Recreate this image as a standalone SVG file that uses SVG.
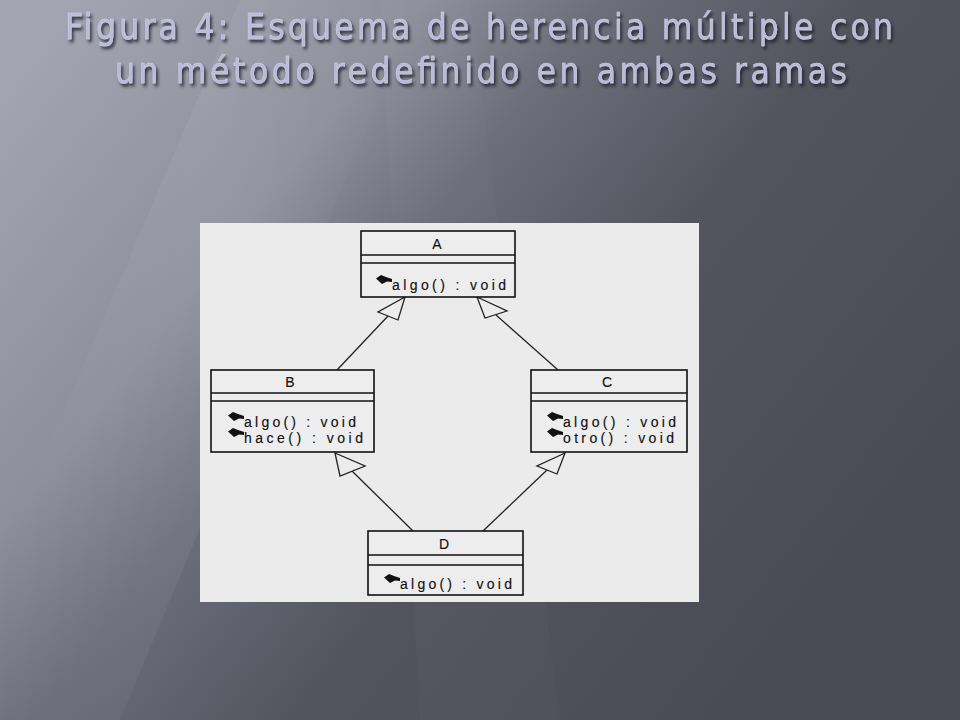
<svg xmlns="http://www.w3.org/2000/svg" width="960" height="720" viewBox="0 0 960 720">
<defs>
<linearGradient id="bg" x1="0" y1="0.1" x2="1" y2="0.7">
<stop offset="0" stop-color="#a3a5b3"/>
<stop offset="0.28" stop-color="#8d8f9c"/>
<stop offset="0.42" stop-color="#6c6e7a"/>
<stop offset="0.62" stop-color="#53545e"/>
<stop offset="1" stop-color="#494a53"/>
</linearGradient>
<linearGradient id="streak" x1="0" y1="0" x2="1" y2="0">
<stop offset="0" stop-color="#ffffff" stop-opacity="0"/>
<stop offset="0.5" stop-color="#ffffff" stop-opacity="0.06"/>
<stop offset="1" stop-color="#ffffff" stop-opacity="0"/>
</linearGradient>
<filter id="shadow" x="-5%" y="-30%" width="110%" height="170%">
<feDropShadow dx="2" dy="3" stdDeviation="1.5" flood-color="#1e1e26" flood-opacity="0.85"/>
</filter>
<path id="op" d="M0,3.5 L5,0 L10,2 L16,4 L16,7 L11,6.5 L6,9 Z" fill="#111"/>
</defs>
<style>
.title{font-family:"DejaVu Sans Condensed","DejaVu Sans","Open Sans",sans-serif;font-stretch:condensed;font-size:35px;fill:#babbd8;stroke:#d6d7ee;stroke-width:0.4;}
.box{fill:#ededed;stroke:#111;stroke-width:1.6;}
.div{stroke:#111;stroke-width:1.6;}
.name{font-family:"Liberation Sans",Arial,sans-serif;font-size:14px;fill:#111;text-anchor:middle;stroke:#111;stroke-width:0.15;}
.meth{font-family:"Liberation Sans",Arial,sans-serif;font-size:14px;fill:#111;stroke:#111;stroke-width:0.15;}
.conn line{stroke:#222;stroke-width:1.3;}
.conn polygon{fill:#ececec;stroke:#222;stroke-width:1.3;stroke-linejoin:miter;}
</style>
<rect x="0" y="0" width="960" height="720" fill="url(#bg)"/>
<polygon points="240,0 420,0 120,720 0,720 0,560" fill="url(#streak)"/>
<polygon points="380,0 470,0 560,720 420,720" fill="#ffffff" opacity="0.02"/>
<g id="title" filter="url(#shadow)">
<text class="title" x="65" y="39" textLength="828" lengthAdjust="spacing">Figura 4: Esquema de herencia múltiple con</text>
<text class="title" x="115" y="83" textLength="732" lengthAdjust="spacing">un método redefinido en ambas ramas</text>
</g>
<rect x="200" y="223" width="499" height="379" fill="#ebebeb"/>
<g id="connectors" class="conn">
<line x1="337" y1="370" x2="388" y2="316"/>
<polygon points="405,297 378,312 398,320"/>
<line x1="558" y1="370" x2="496" y2="315"/>
<polygon points="477,297 507,311 485,318"/>
<line x1="413" y1="531" x2="352" y2="471"/>
<polygon points="335,453 365,466 340,476"/>
<line x1="483" y1="531" x2="547" y2="470"/>
<polygon points="565,453 537,466 557,474"/>
</g>
<g id="A">
<rect class="box" x="361" y="231" width="154" height="66"/>
<line class="div" x1="361" y1="255" x2="515" y2="255"/>
<line class="div" x1="361" y1="263" x2="515" y2="263"/>
<text class="name" x="437" y="249">A</text>
<use href="#op" x="376" y="275"/>
<text class="meth" x="392" y="290" textLength="114" lengthAdjust="spacing">algo() : void</text>
</g>
<g id="B">
<rect class="box" x="211" y="370" width="163" height="82"/>
<line class="div" x1="211" y1="393" x2="374" y2="393"/>
<line class="div" x1="211" y1="401" x2="374" y2="401"/>
<text class="name" x="290" y="387">B</text>
<use href="#op" x="228" y="412"/>
<text class="meth" x="244" y="427" textLength="112" lengthAdjust="spacing">algo() : void</text>
<use href="#op" x="228" y="428"/>
<text class="meth" x="244" y="443" textLength="119" lengthAdjust="spacing">hace() : void</text>
</g>
<g id="C">
<rect class="box" x="531" y="370" width="156" height="82"/>
<line class="div" x1="531" y1="393" x2="687" y2="393"/>
<line class="div" x1="531" y1="401" x2="687" y2="401"/>
<text class="name" x="607" y="387">C</text>
<use href="#op" x="547" y="412"/>
<text class="meth" x="563" y="427" textLength="113" lengthAdjust="spacing">algo() : void</text>
<use href="#op" x="547" y="428"/>
<text class="meth" x="563" y="443" textLength="111" lengthAdjust="spacing">otro() : void</text>
</g>
<g id="D">
<rect class="box" x="368" y="531" width="155" height="64"/>
<line class="div" x1="368" y1="555" x2="523" y2="555"/>
<line class="div" x1="368" y1="565" x2="523" y2="565"/>
<text class="name" x="444" y="549">D</text>
<use href="#op" x="384" y="574"/>
<text class="meth" x="400" y="589" textLength="112" lengthAdjust="spacing">algo() : void</text>
</g>
</svg>
